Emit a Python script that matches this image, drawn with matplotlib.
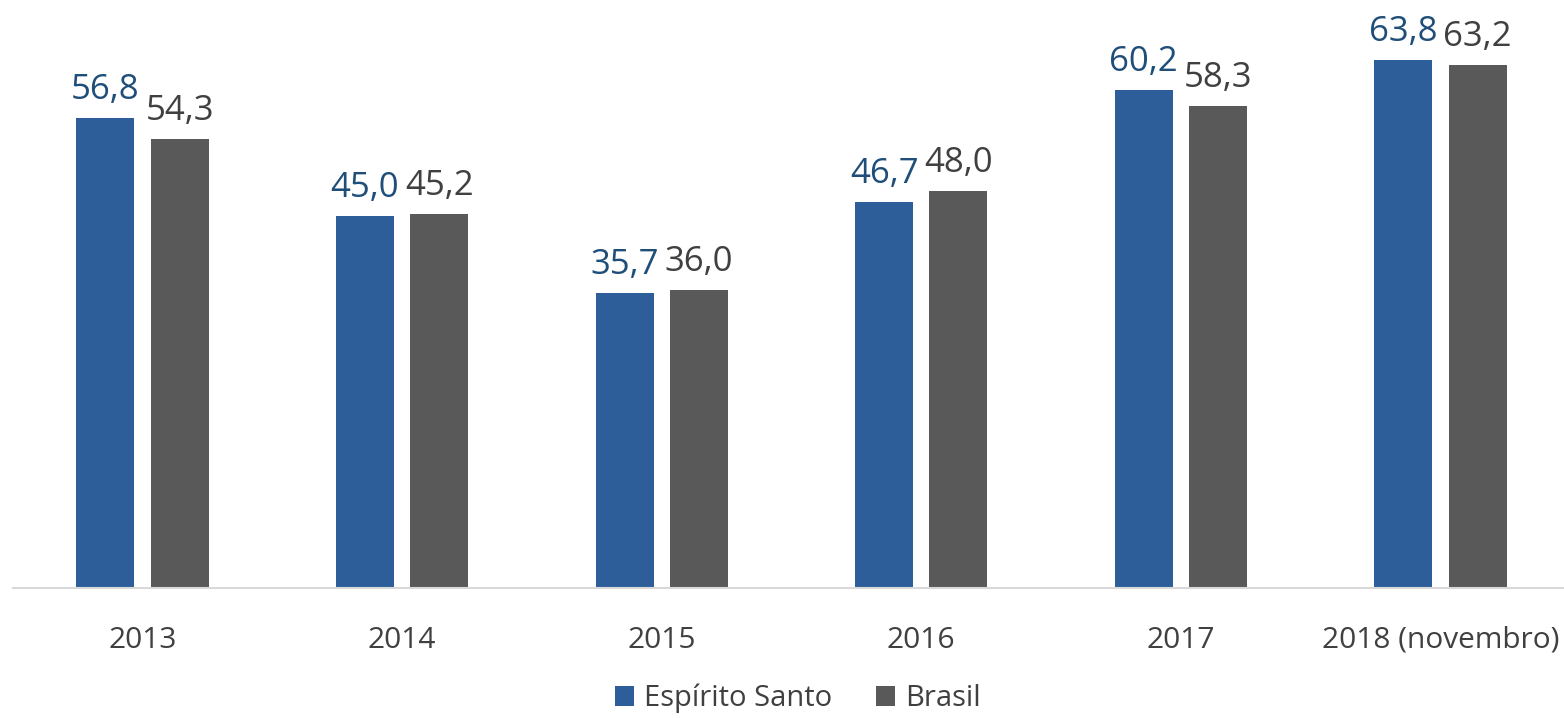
import matplotlib.pyplot as plt
import numpy as np

years = ['2013', '2014', '2015', '2016', '2017', '2018 (novembro)']
espirito_santo = [56.8, 45.0, 35.7, 46.7, 60.2, 63.8]
brasil = [54.3, 45.2, 36.0, 48.0, 58.3, 63.2]

plt.rcParams['font.family'] = ['Open Sans', 'DejaVu Sans']

fig = plt.figure(figsize=(15.64, 7.18), dpi=100)
ax = fig.add_axes([12.7 / 1564, 130 / 718, 1557.6 / 1564, 579 / 718])

x = np.arange(len(years))
w = 0.224
off = 0.143
b1 = ax.bar(x - off, espirito_santo, w, color='#2E5E99', label='Espírito Santo')
b2 = ax.bar(x + off, brasil, w, color='#595959', label='Brasil')

def fmt(v):
    return f'{v:.1f}'.replace('.', ',')

for rect, v in zip(b1, espirito_santo):
    ax.annotate(fmt(v), (rect.get_x() + rect.get_width() / 2, v), xytext=(0, 8),
                textcoords='offset points', ha='center', va='bottom',
                fontsize=25, color='#1F4E79')
for rect, v in zip(b2, brasil):
    ax.annotate(fmt(v), (rect.get_x() + rect.get_width() / 2, v), xytext=(0, 8),
                textcoords='offset points', ha='center', va='bottom',
                fontsize=25, color='#404040')

ax.set_xlim(-0.5, 5.5)
ax.set_ylim(0, 70)
ax.set_xticks(x)
ax.set_xticklabels(years, fontsize=21.5, color='#404040')
ax.tick_params(axis='x', length=0, pad=27)
ax.set_yticks([])
for s in ['top', 'right', 'left']:
    ax.spines[s].set_visible(False)
ax.spines['bottom'].set_color('#D9D9D9')
ax.spines['bottom'].set_linewidth(1.5)

fig.legend(loc='lower center', bbox_to_anchor=(0.51, -0.03), ncol=2, frameon=False,
           fontsize=21, handlelength=0.65, handleheight=0.65, handletextpad=0.35,
           columnspacing=1.5, labelcolor='#404040')

fig.savefig('out.png', dpi=100)
